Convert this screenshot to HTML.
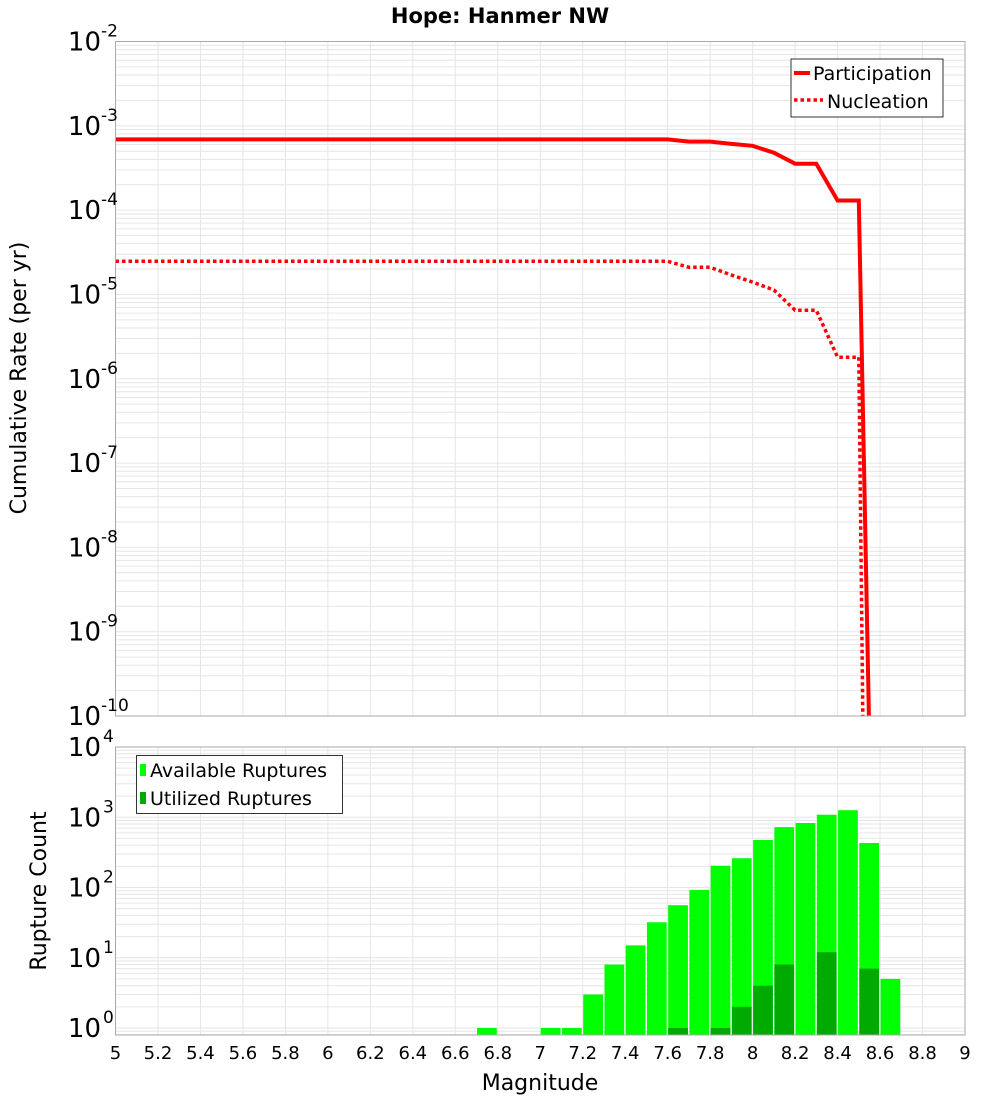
<!DOCTYPE html>
<html><head><meta charset="utf-8"><style>
body{margin:0;background:#fff;font-family:"Liberation Sans","DejaVu Sans",sans-serif}
svg text{font-family:"DejaVu Sans","Liberation Sans",sans-serif}
</style></head><body>
<svg id="chart" width="1000" height="1100" xmlns="http://www.w3.org/2000/svg">
<text x="500" y="23" text-anchor="middle" font-size="21" font-weight="bold">Hope: Hanmer NW</text>
<g id="topPanel"></g><g id="botPanel"></g>
<text transform="translate(26,378) rotate(-90)" text-anchor="middle" font-size="22">Cumulative Rate (per yr)</text>
<text transform="translate(46,891) rotate(-90)" text-anchor="middle" font-size="22">Rupture Count</text>
<text x="540" y="1090" text-anchor="middle" font-size="22">Magnitude</text>
</svg>
<script>
const magGrid=[5,5.2,5.4,5.6,5.8,6,6.2,6.4,6.6,6.8,7,7.2,7.4,7.6,7.8,8,8.2,8.4,8.6,8.8,9];
const xTickLabels=["5","5.2","5.4","5.6","5.8","6","6.2","6.4","6.6","6.8","7","7.2","7.4","7.6","7.8","8","8.2","8.4","8.6","8.8","9"];
const partMags=[5,7.6,7.7,7.8,7.9,8.0,8.1,8.2,8.3,8.4,8.5,8.55];
const partRates=[6.9e-4,6.9e-4,6.5e-4,6.5e-4,6.1e-4,5.8e-4,4.8e-4,3.55e-4,3.55e-4,1.3e-4,1.3e-4,5e-11];
const nuclMags=[5,7.6,7.7,7.8,7.9,8.0,8.1,8.2,8.3,8.4,8.5,8.52];
const nuclRates=[2.47e-5,2.47e-5,2.1e-5,2.1e-5,1.7e-5,1.4e-5,1.13e-5,6.5e-6,6.5e-6,1.8e-6,1.8e-6,5e-11];
const binMags=[6.7,7.0,7.1,7.2,7.3,7.4,7.5,7.6,7.7,7.8,7.9,8.0,8.1,8.2,8.3,8.4,8.5,8.6];
const availCounts=[1,1,1,3,8,15,32,56,92,204,261,474,724,828,1087,1260,430,5];
const usedCounts=[0,0,0,0,0,0,0,1,0,1,2,4,8,0,12,0,7,0];
const topExps=[-2,-3,-4,-5,-6,-7,-8,-9,-10];
const botExps=[4,3,2,1,0];

const NS="http://www.w3.org/2000/svg";
const X0=115.5,X1=965;
const xs=m=>X0+(m-5)*(X1-X0)/4;
const T0=41.5,T1=716,TD=(T1-T0)/8;
const yt=v=>T0+(-2-Math.log10(v))*TD;
const BD=70.25,B1=1028,BTOP=747,BBOT=1035;
const yb=v=>B1-Math.log10(v)*BD;
function mk(tag,attrs,parent,text){const e=document.createElementNS(NS,tag);for(const k in attrs)e.setAttribute(k,attrs[k]);if(text!==undefined)e.textContent=text;parent.appendChild(e);return e;}
const topG=document.getElementById('topPanel'),botG=document.getElementById('botPanel');

function grid(g,y0,y1,ycoord,emin,emax){
  for(const m of magGrid){const l=mk('line',{x1:xs(m),x2:xs(m),y1:y0,y2:y1,stroke:'#e6e6e6','stroke-width':1},g);
    
    }
  for(let e=emin;e<emax;e++)for(let k=1;k<10;k++){const y=ycoord(k*Math.pow(10,e));if(y<y0-0.5||y>y1+0.5)continue;
    const l=mk('line',{x1:X0,x2:X1,y1:y,y2:y,stroke:'#e6e6e6','stroke-width':1},g);
    
    }
}
// top panel
grid(topG,T0,T1,yt,-10,-2);
const clipT=mk('clipPath',{id:'ct'},topG);mk('rect',{x:X0,y:T0,width:X1-X0,height:T1-T0},clipT);
function pathFor(ms,vs){return ms.map((m,i)=>(i?'L':'M')+xs(m).toFixed(1)+','+yt(vs[i]).toFixed(1)).join(' ');}
const pl=mk('path',{d:pathFor(partMags,partRates),fill:'none',stroke:'#ff0000','stroke-width':4,'clip-path':'url(#ct)'},topG);


const nl=mk('path',{d:pathFor(nuclMags,nuclRates),fill:'none',stroke:'#ff0000','stroke-width':3.5,'stroke-dasharray':'3.5,3','clip-path':'url(#ct)'},topG);


const tb=mk('rect',{x:X0,y:T0,width:X1-X0,height:T1-T0,fill:'none',stroke:'#aaa','stroke-width':1},topG);


for(const e of topExps){const y=yt(Math.pow(10,e));const t=mk('text',{x:101,y:y+9,'text-anchor':'end','font-size':26},topG,'10');
  
  
  const s=mk('text',{x:101,y:y-5,'font-size':17},topG,String(e));
  
  }
// top legend
const lg=mk('g',{},topG);


mk('rect',{x:791,y:59,width:152,height:58,fill:'#fff',stroke:'#333','stroke-width':1},lg);
mk('line',{x1:794,x2:810,y1:73,y2:73,stroke:'#f00','stroke-width':4},lg);
const lt1=mk('text',{x:813,y:80,'font-size':19},lg,'Participation');


mk('line',{x1:794,x2:823,y1:100,y2:100,stroke:'#f00','stroke-width':3.5,'stroke-dasharray':'3.5,3'},lg);
const lt2=mk('text',{x:827,y:108,'font-size':19},lg,'Nucleation');



// bottom panel
grid(botG,BTOP,BBOT,yb,-1,4);
const bw=(X1-X0)/4*0.093;
binMags.forEach((m,i)=>{
  if(availCounts[i]>0){const y=yb(availCounts[i]);const r=mk('rect',{x:xs(m)+0.5,y:y,width:bw,height:BBOT-y,fill:'#00ff00'},botG);
    
    }
  if(usedCounts[i]>0){const y=yb(usedCounts[i]);const r=mk('rect',{x:xs(m)+0.5,y:y,width:bw,height:BBOT-y,fill:'#00aa00'},botG);
    
    }
});
const bb=mk('rect',{x:X0,y:BTOP,width:X1-X0,height:BBOT-BTOP,fill:'none',stroke:'#aaa','stroke-width':1},botG);


for(const e of botExps){const y=yb(Math.pow(10,e));const t=mk('text',{x:101,y:y+9,'text-anchor':'end','font-size':26},botG,'10');
  
  
  const s=mk('text',{x:103,y:y-5,'font-size':17},botG,String(e));
  
  }
magGrid.forEach((m,i)=>{const t=mk('text',{x:xs(m),y:1059,'text-anchor':'middle','font-size':18},botG,xTickLabels[i]);
  
  });
const bl=mk('g',{},botG);


mk('rect',{x:136.5,y:755.5,width:206,height:58,fill:'#fff',stroke:'#333','stroke-width':1},bl);
mk('rect',{x:140,y:764,width:6,height:12,fill:'#00ff00'},bl);
const b1=mk('text',{x:150,y:777,'font-size':19},bl,'Available Ruptures');


mk('rect',{x:140,y:792,width:6,height:12,fill:'#00aa00'},bl);
const b2=mk('text',{x:150,y:805,'font-size':19},bl,'Utilized Ruptures');


</script>
</body></html>
